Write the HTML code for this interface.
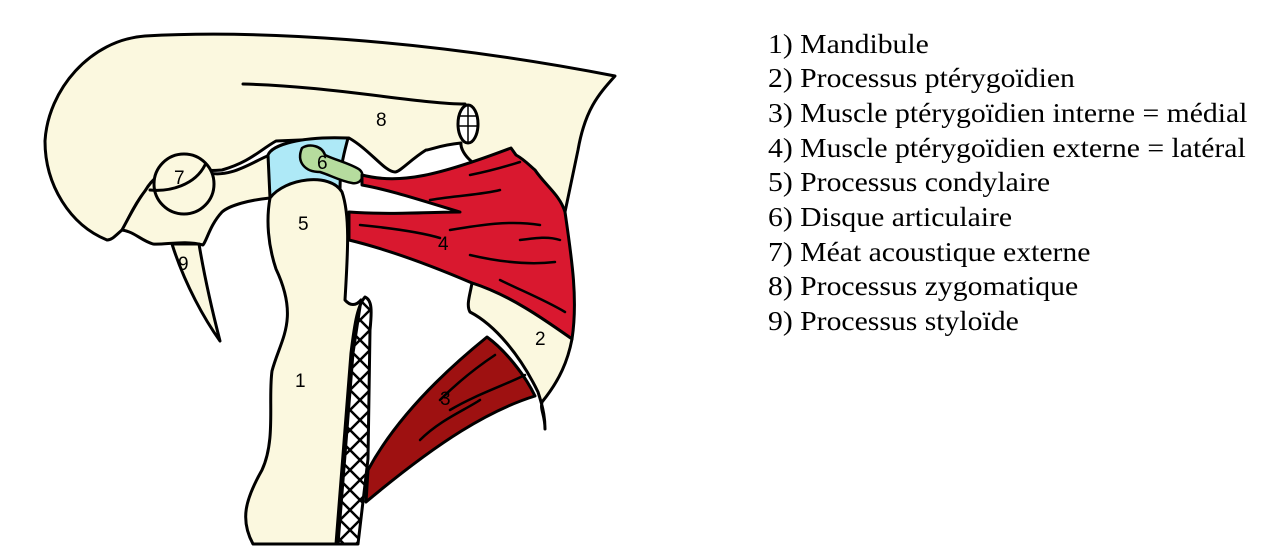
<!DOCTYPE html>
<html><head><meta charset="utf-8"><style>
html,body{margin:0;padding:0;background:#fff;width:1279px;height:557px;overflow:hidden}
.t{position:absolute;left:768px;font-family:"Liberation Serif",serif;font-size:27px;color:#000;white-space:nowrap;line-height:1;transform:scaleX(1.1);transform-origin:0 0}
</style></head><body>
<svg width="1279" height="557" style="position:absolute;left:0;top:0" xmlns="http://www.w3.org/2000/svg">
<g stroke="#000" stroke-width="3" stroke-linejoin="round" stroke-linecap="round">
<path fill="#fbf8df" d="M107 240 C70 225 45 185 45 141 C48 90 90 40 145 36 C250 30 420 38 615 76 C598 95 585 110 578 150 L565 212 L500 175 C470 168 460 150 461 143 C440 145 430 150 426 150 C410 160 400 172 395 172 C385 172 370 150 349 138 L276 141 C260 150 250 162 222 170 C200 172 190 168 180 168 C160 172 150 185 145 191 C130 210 125 228 122 230 C115 236 112 240 107 240 Z"/>
<path fill="#fbf8df" d="M145 191 C160 165 190 160 205 172 C230 180 255 160 270 155 L270 198 C250 200 230 205 222 212 C210 225 207 240 203 245 C185 240 165 245 153 244 C140 240 135 232 122 230 C130 215 138 200 145 191 Z"/>
<circle cx="184" cy="184" r="30" fill="#fbf8df"/>
<path fill="none" d="M150 190 C170 192 195 185 205 165"/>
<path fill="#fbf8df" d="M172 244 C185 285 205 320 220 341 C212 310 205 280 199 244 Z"/>
<path fill="none" d="M243 84 C330 86 420 104 465 104"/>
<ellipse cx="468" cy="124" rx="10" ry="19" fill="#fff"/>
<path fill="none" stroke-width="1.5" d="M460 116 L477 116 M459 126 L477 126 M468 106 L468 142"/>
<path fill="#aee9f7" d="M268 155 C272 145 300 136 348 138 C345 150 340 165 340 190 C320 180 290 180 270 198 Z"/>
<path fill="#b6dc9e" stroke-width="2.5" d="M302 148 C310 143 322 146 325 155 C335 160 352 164 360 170 C366 176 360 185 352 183 C340 181 330 175 320 172 C305 172 296 162 302 148 Z"/>
<path fill="#d9182f" d="M362 175 C400 185 440 175 511 148 L516 155 C525 160 530 166 535 170 C545 185 560 195 565 212 C572 260 578 300 572 339 C545 320 510 295 472 283 C430 265 390 250 349 240 L349 212 C390 215 430 212 460 212 C420 200 390 190 362 185 Z"/>
<path fill="#fbf8df" d="M472 283 C470 295 466 305 470 312 C495 325 520 355 538 392 C544 410 545 420 545 429 C545 415 540 410 542 402 C560 380 568 360 572 339 C545 320 510 295 472 283 Z"/>
<path fill="#9e1111" d="M487 337 C505 350 525 375 535 396 C490 410 440 440 366 502 L368 470 C395 420 440 375 487 337 Z"/>
<path fill="#fbf8df" d="M270 198 C285 178 330 172 342 192 C350 215 348 250 345 300 C350 306 356 306 361 300 L353 353 L338 544 L253 544 C240 520 245 500 262 470 C276 440 268 400 272 371 C280 340 300 320 276 269 C268 245 266 220 270 198 Z"/>
<defs><pattern id="h" width="20" height="20" patternUnits="userSpaceOnUse"><path d="M0 0 L20 20 M20 0 L0 20" stroke="#000" stroke-width="2.5"/></pattern></defs>
<path fill="url(#h)" d="M365 297 C372 300 372 310 370 330 L368 459 L358 544 L336 544 L351 353 C355 320 358 305 365 297 Z"/>
</g>
<g stroke="#000" stroke-width="2.5" fill="none" stroke-linecap="round">
<path d="M430 200 C460 195 480 195 500 190"/><path d="M470 175 C495 170 510 165 520 162"/><path d="M450 230 C480 225 510 220 540 225"/><path d="M360 225 C390 228 420 232 440 238"/><path d="M470 255 C500 262 530 265 555 262"/><path d="M520 240 C535 238 548 236 560 240"/><path d="M500 280 C520 290 545 300 565 312"/><path d="M440 400 C460 380 480 365 495 355"/><path d="M450 410 C475 395 505 385 525 375"/><path d="M420 440 C440 420 465 410 480 400"/>
</g>
<g font-family="Liberation Sans, sans-serif" font-size="19" fill="#000">
<text x="295" y="387">1</text><text x="535" y="345">2</text><text x="440" y="405">3</text><text x="438" y="250">4</text><text x="298" y="230">5</text><text x="317" y="169">6</text><text x="174" y="184">7</text><text x="376" y="126">8</text><text x="178" y="270">9</text>
</g>
</svg>
<div class="t" style="top:31px">1) Mandibule</div>
<div class="t" style="top:65px">2) Processus ptérygoïdien</div>
<div class="t" style="top:100px">3) Muscle ptérygoïdien interne = médial</div>
<div class="t" style="top:135px">4) Muscle ptérygoïdien externe = latéral</div>
<div class="t" style="top:169px">5) Processus condylaire</div>
<div class="t" style="top:204px">6) Disque articulaire</div>
<div class="t" style="top:239px">7) Méat acoustique externe</div>
<div class="t" style="top:273px">8) Processus zygomatique</div>
<div class="t" style="top:308px">9) Processus styloïde</div>
</body></html>
